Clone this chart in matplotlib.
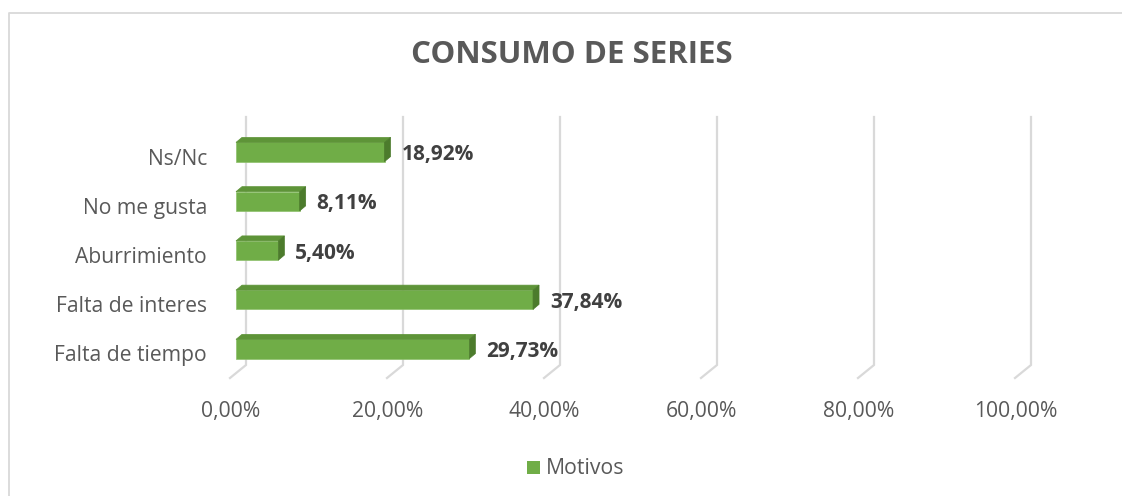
import matplotlib
matplotlib.use('Agg')
import matplotlib.pyplot as plt
from matplotlib.patches import Polygon, Rectangle
from matplotlib.lines import Line2D
from matplotlib.transforms import offset_copy, IdentityTransform
import numpy as np

categories = ['Falta de tiempo', 'Falta de interes', 'Aburrimiento', 'No me gusta', 'Ns/Nc']
values = [29.73, 37.84, 5.40, 8.11, 18.92]
value_labels = ['29,73%', '37,84%', '5,40%', '8,11%', '18,92%']
xticks = [0, 20, 40, 60, 80, 100]
xtick_labels = ['0,00%', '20,00%', '40,00%', '60,00%', '80,00%', '100,00%']
title = 'CONSUMO DE SERIES'
series_name = 'Motivos'

plt.rcParams['font.family'] = ['Open Sans', 'DejaVu Sans']

W, H = 1122, 496
fig = plt.figure(figsize=(W / 100, H / 100), dpi=100)
fig.patch.set_facecolor('white')


def px(x0, y0, x1, y1):
    return [x0 / W, 1 - y1 / H, (x1 - x0) / W, (y1 - y0) / H]


ax = fig.add_axes(px(236, 127.4, 1021, 373.6))
ax.set_xlim(0, 100)
ax.set_ylim(-0.5, 4.5)
ax.axis('off')

ident = IdentityTransform()
xa = ax.get_xaxis_transform()

FRONT = '#70AD47'
TOP = '#5E9438'
SIDE = '#4C7B2C'
GRID = '#D9D9D9'

# gridlines (back wall + floor diagonal)
yb = (373.6 - 365) / 246.2
yt = (373.6 - 117) / 246.2
for v in xticks:
    p_bot = xa.transform((v, yb)) + np.array([10, 0])
    p_top = xa.transform((v, yt)) + np.array([10, 0])
    p_front = xa.transform((v, yb)) + np.array([-6, -13])
    ln = Line2D([p_front[0], p_bot[0], p_top[0]],
                [p_front[1], p_bot[1], p_top[1]],
                transform=ident, color=GRID, lw=1.6,
                solid_joinstyle='miter', zorder=1)
    ln.set_clip_on(False)
    ax.add_line(ln)

# bars
h = 0.39
dx, dy = 6, 5
ypos = np.arange(len(categories))
ax.barh(ypos, values, height=h, color=FRONT, edgecolor='#8CC06A', linewidth=0.5, zorder=3)
td = ax.transData
for y, v in zip(ypos, values):
    a = td.transform((0, y + h / 2))
    b = td.transform((v, y + h / 2))
    c = td.transform((v, y - h / 2))
    off = np.array([dx, dy])
    top = Polygon([a, b, b + off, a + off], closed=True, transform=ident,
                  facecolor=TOP, edgecolor=TOP, lw=0.5, zorder=4, clip_on=False)
    side = Polygon([c, b, b + off, c + off], closed=True, transform=ident,
                   facecolor=SIDE, edgecolor=SIDE, lw=0.5, zorder=4, clip_on=False)
    ax.add_patch(top)
    ax.add_patch(side)

# value labels
for y, v, lab in zip(ypos, values, value_labels):
    ax.text(v, y, lab, transform=offset_copy(td, fig=fig, x=17, y=-8, units='dots'),
            ha='left', va='baseline', fontsize=15, fontweight='bold', color='#404040',
            zorder=5)

# category labels
for y, cat in zip(ypos, categories):
    ax.text(0, y, cat, transform=offset_copy(td, fig=fig, x=-29, y=-12.5, units='dots'),
            ha='right', va='baseline', fontsize=15.2, color='#595959')

# tick labels
for v, lab in zip(xticks, xtick_labels):
    ax.text(v, yb, lab, transform=offset_copy(xa, fig=fig, x=-5.5, y=-52, units='dots'),
            ha='center', va='baseline', fontsize=15.2, color='#595959')

# title
fig.text(572 / W, 1 - 63 / H, title, ha='center', va='baseline', fontsize=22.5,
         fontweight='bold', color='#595959')

# legend
fig.add_artist(Rectangle((527 / W, 1 - 474 / H), 13 / W, 13 / H, transform=fig.transFigure,
                         facecolor=FRONT, edgecolor='none'))
fig.text(546 / W, 1 - 474 / H, series_name, ha='left', va='baseline', fontsize=15.3,
         color='#595959')

# chart border (left and top visible)
fig.add_artist(Line2D([8.5 / W, 8.5 / W, 1.0], [0, 1 - 12.5 / H, 1 - 12.5 / H],
                      transform=fig.transFigure, color=GRID, lw=1.3))

fig.savefig('out.png', dpi=100)
